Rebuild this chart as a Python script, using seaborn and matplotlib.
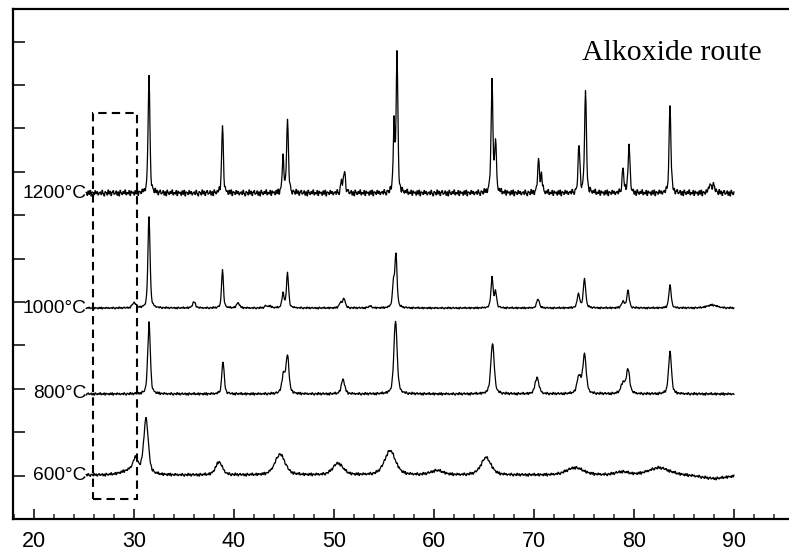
import numpy as np
import pandas as pd
import matplotlib
matplotlib.use("Agg")
import matplotlib.pyplot as plt
from matplotlib.patches import Rectangle
from matplotlib.ticker import MultipleLocator
import seaborn as sns

# XRD patterns of BaTiO3 powders (alkoxide route) calcined at several temperatures
temperatures = ["600°C", "800°C", "1000°C", "1200°C"]
baselines = [1.01, 2.88, 4.86, 7.51]          # vertical offset of each pattern
noise_level = [0.035, 0.030, 0.022, 0.075]     # background fuzz of each pattern

# reflections: (2theta, height, FWHM)
peaks_600 = [(29.6, 0.10, 2.0), (30.15, 0.30, 0.6), (31.2, 1.27, 0.55),
             (38.5, 0.30, 0.8), (44.6, 0.48, 1.2), (50.4, 0.27, 1.2),
             (55.6, 0.56, 1.3), (60.3, 0.10, 1.5), (65.2, 0.40, 1.2),
             (74.1, 0.17, 2.0), (78.8, 0.07, 1.5), (82.5, 0.17, 2.5),
             (88.0, -0.08, 3.0)]
peaks_800 = [(31.5, 1.66, 0.30), (38.9, 0.75, 0.28), (44.95, 0.42, 0.40),
             (45.35, 0.85, 0.35), (50.9, 0.34, 0.40), (56.15, 1.70, 0.38),
             (65.85, 1.17, 0.40), (70.3, 0.38, 0.45), (74.5, 0.40, 0.45),
             (75.05, 0.90, 0.40), (78.9, 0.24, 0.50), (79.4, 0.55, 0.40),
             (83.6, 0.97, 0.35)]
peaks_1000 = [(30.0, 0.12, 0.40), (31.5, 2.12, 0.25), (36.0, 0.14, 0.35),
              (38.85, 0.90, 0.22), (40.4, 0.12, 0.35), (43.2, 0.05, 0.30),
              (43.6, 0.05, 0.30), (44.9, 0.33, 0.25), (45.35, 0.80, 0.25),
              (50.65, 0.12, 0.30), (51.0, 0.22, 0.30), (53.6, 0.04, 0.40),
              (55.95, 0.55, 0.25), (56.2, 1.20, 0.25), (65.8, 0.70, 0.25),
              (66.15, 0.36, 0.25), (70.4, 0.22, 0.30), (74.45, 0.32, 0.30),
              (75.05, 0.68, 0.28), (78.9, 0.14, 0.35), (79.4, 0.40, 0.28),
              (83.6, 0.52, 0.28), (87.8, 0.07, 1.20)]
peaks_1200 = [(31.5, 2.65, 0.22), (38.85, 1.57, 0.20), (44.9, 0.80, 0.20),
              (45.35, 1.68, 0.22), (50.75, 0.28, 0.20), (51.05, 0.50, 0.22),
              (56.0, 1.60, 0.18), (56.3, 3.22, 0.20), (65.8, 2.55, 0.22),
              (66.15, 1.20, 0.20), (70.45, 0.78, 0.20), (70.75, 0.42, 0.20),
              (74.5, 1.08, 0.22), (75.15, 2.35, 0.22), (78.9, 0.55, 0.22),
              (79.5, 1.10, 0.22), (83.6, 2.00, 0.22), (87.6, 0.20, 0.30),
              (88.0, 0.18, 0.30)]
peak_tables = [peaks_600, peaks_800, peaks_1000, peaks_1200]

# counting-statistics ripple, cycled along the scan
ripple = [0.3, -0.5, 0.8, -0.2, -0.9, 0.4, 0.1, -0.6, 0.9, -0.3, 0.5, -0.8,
          0.2, 0.7, -0.4, -0.1, 0.6, -0.7, 0.3, -0.9, 0.8, 0.0, -0.5, 0.4,
          -0.2, 0.9, -0.6, 0.1, -0.3, 0.7, -0.8, 0.5, -0.1, 0.2, -0.7, 0.6,
          -0.4, 0.8, -0.9, 0.3, 0.1, -0.5, 0.7, -0.2, 0.4, -0.6, 0.0]

scan_start, scan_end, scan_step = 25.2, 90.0, 0.05
box_x = (25.9, 30.3)      # region highlighted by the dashed frame
box_y = (0.46, 9.35)

two_theta = np.arange(scan_start, scan_end + 1e-9, scan_step)


def pattern(table, base, noise, shift):
    y = np.full_like(two_theta, base)
    for pos, h, w in table:
        d = (two_theta - pos) / (w / 2.0)
        lor = 1.0 / (1.0 + d ** 2)
        gau = np.exp(-np.log(2.0) * d ** 2)
        y += h * (0.5 * lor + 0.5 * gau)
    # one ripple value per two scan points (roughly one counting step)
    rip = np.array([ripple[(i // 2 + shift) % len(ripple)]
                    for i in range(len(two_theta))])
    return y + noise * rip


frames = []
for k, (temp, table) in enumerate(zip(temperatures, peak_tables)):
    frames.append(pd.DataFrame({
        "two_theta": two_theta,
        "intensity": pattern(table, baselines[k], noise_level[k], 11 * k),
        "temperature": temp,
    }))
df = pd.concat(frames, ignore_index=True)

sns.set_theme(style="ticks")
plt.rcParams["font.family"] = ["Liberation Sans", "DejaVu Sans"]

fig = plt.figure(figsize=(7.89, 5.53), dpi=100)
ax = fig.add_axes([13 / 789, 1 - 519 / 553, 1 - 13 / 789, 510 / 553])

sns.lineplot(data=df, x="two_theta", y="intensity", hue="temperature",
             palette=["black"] * 4, legend=False, estimator=None, sort=False,
             linewidth=0.9, ax=ax)

ax.set_xlim(17.9, 95.5)
ax.set_ylim(0, 11.75)
ax.set_xlabel("")
ax.set_ylabel("")

for temp, base in zip(temperatures, baselines):
    ax.text(scan_start, base, temp, ha="right", va="center", fontsize=13.8,
            color="black")

ax.text(74.8, 10.58, "Alkoxide route", family="Liberation Serif",
        fontsize=21.5, ha="left", va="baseline", color="black")

ax.add_patch(Rectangle((box_x[0], box_y[0]), box_x[1] - box_x[0],
                       box_y[1] - box_y[0], fill=False, edgecolor="black",
                       linewidth=1.5, linestyle=(0, (4, 2.5))))

ax.xaxis.set_major_locator(MultipleLocator(10))
ax.xaxis.set_minor_locator(MultipleLocator(2))
ax.yaxis.set_major_locator(MultipleLocator(1))
ax.tick_params(axis="x", which="major", direction="in", length=7.5, width=1.1,
               labelsize=15.5, pad=8.5, colors="black")
ax.tick_params(axis="x", which="minor", direction="in", length=3.8, width=1.1)
ax.tick_params(axis="y", which="major", direction="in", length=8.8, width=1.3,
               labelleft=False)
ax.set_xticks(np.arange(20, 100, 10))

for side in ("left", "bottom", "top"):
    ax.spines[side].set_linewidth(1.6)
    ax.spines[side].set_color("black")
ax.spines["right"].set_visible(False)

fig.savefig("out.png", dpi=100)
